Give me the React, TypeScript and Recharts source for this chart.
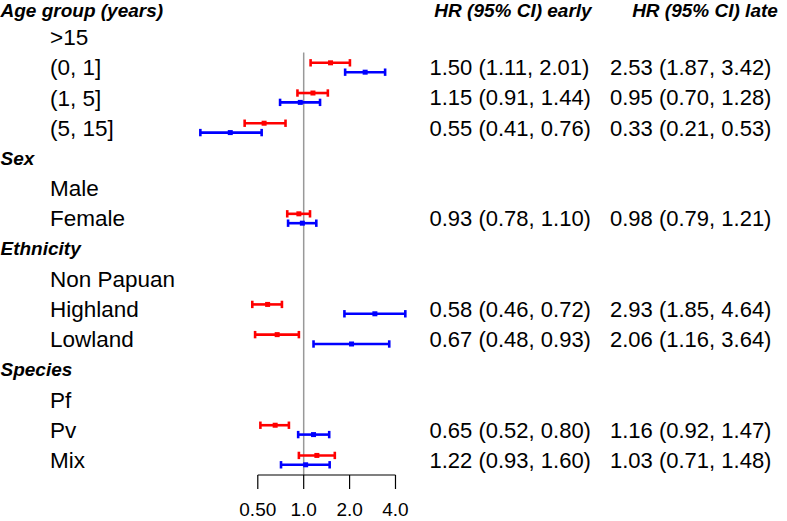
import React from 'react';
import { ScatterChart, Scatter, XAxis, YAxis, ErrorBar, ReferenceLine } from 'recharts';

const FONT = '"Liberation Sans", Arial, Helvetica, sans-serif';

// Row labels (top to bottom)
const rowLabels = [
  'Age group (years)', '>15', '(0, 1]', '(1, 5]', '(5, 15]',
  'Sex', 'Male', 'Female',
  'Ethnicity', 'Non Papuan', 'Highland', 'Lowland',
  'Species', 'Pf', 'Pv', 'Mix',
];
const headerRows = ['Age group (years)', 'Sex', 'Ethnicity', 'Species'];

// Rows with estimates
const estRows = ['(0, 1]', '(1, 5]', '(5, 15]', 'Female', 'Highland', 'Lowland', 'Pv', 'Mix'];

const earlyHR = [1.50, 1.15, 0.55, 0.93, 0.58, 0.67, 0.65, 1.22];
const earlyLo = [1.11, 0.91, 0.41, 0.78, 0.46, 0.48, 0.52, 0.93];
const earlyHi = [2.01, 1.44, 0.76, 1.10, 0.72, 0.93, 0.80, 1.60];

const lateHR = [2.53, 0.95, 0.33, 0.98, 2.93, 2.06, 1.16, 1.03];
const lateLo = [1.87, 0.70, 0.21, 0.79, 1.85, 1.16, 0.92, 0.71];
const lateHi = [3.42, 1.28, 0.53, 1.21, 4.64, 3.64, 1.47, 1.48];

const columnHeaders = ['HR (95% CI) early', 'HR (95% CI) late'];

const tickValues = [0.5, 1, 2, 4];
const tickLabels = ['0.50', '1.0', '2.0', '4.0'];

const Y_TOP = -0.235;
const Y_BOTTOM = 15.493;
const X_MIN = -2.477;
const X_MAX = 2.534;
const OFFSET = 0.155;

const fmt = (h: number, l: number, u: number) =>
  `${h.toFixed(2)} (${l.toFixed(2)}, ${u.toFixed(2)})`;

const buildPoints = (hr: number[], lo: number[], hi: number[], shift: number) =>
  estRows.map((r, k) => {
    const c = Math.log2(hr[k]);
    return {
      x: c,
      y: rowLabels.indexOf(r) + shift,
      err: [c - Math.log2(lo[k]), Math.log2(hi[k]) - c],
    };
  });

const earlyPts = buildPoints(earlyHR, earlyLo, earlyHi, -OFFSET);
const latePts = buildPoints(lateHR, lateLo, lateHi, OFFSET);

function RowTick(props: any) {
  const { payload } = props;
  const idx = Math.round(payload.value);
  const label = rowLabels[idx];
  if (label === undefined) return null;
  // keep the top header row fully inside the picture
  const y = idx === 0 ? props.y + 3.5 : props.y;
  const isHead = headerRows.includes(label);
  const k = estRows.indexOf(label);
  const headStyle = {
    fontFamily: FONT,
    fontSize: 19,
    fontWeight: 'bold' as const,
    fontStyle: 'italic' as const,
  };
  const labelStyle = { fontFamily: FONT, fontSize: 22.5 };
  const numStyle = { fontFamily: FONT, fontSize: 22 };
  return (
    <g>
      <text
        x={isHead ? 0.5 : 50}
        y={y}
        dy="0.35em"
        textAnchor="start"
        fill="#000"
        style={isHead ? headStyle : labelStyle}
      >
        {label}
      </text>
      {idx === 0 && (
        <>
          <text x={513} y={y} dy="0.35em" textAnchor="middle" fill="#000" style={headStyle}>
            {columnHeaders[0]}
          </text>
          <text x={705} y={y} dy="0.35em" textAnchor="middle" fill="#000" style={headStyle}>
            {columnHeaders[1]}
          </text>
        </>
      )}
      {k >= 0 && (
        <>
          <text x={429.5} y={y} dy="0.35em" textAnchor="start" fill="#000" style={numStyle}>
            {fmt(earlyHR[k], earlyLo[k], earlyHi[k])}
          </text>
          <text x={610} y={y} dy="0.35em" textAnchor="start" fill="#000" style={numStyle}>
            {fmt(lateHR[k], lateLo[k], lateHi[k])}
          </text>
        </>
      )}
    </g>
  );
}

const Marker = (color: string) => (props: any) => (
  <rect x={props.cx - 2.5} y={props.cy - 2.5} width={5} height={5} fill={color} />
);

export default function App() {
  return (
    <div style={{ position: 'absolute', left: 0, top: 0, background: '#fff' }}>
      <ScatterChart
        width={787}
        height={521}
        margin={{ top: 0, right: 367, bottom: 0, left: 0 }}
        style={{ fontFamily: FONT }}
      >
        <XAxis
          type="number"
          dataKey="x"
          domain={[X_MIN, X_MAX]}
          allowDataOverflow
          ticks={tickValues.map((v) => Math.log2(v))}
          interval={0}
          tickFormatter={(v: number) => tickLabels[tickValues.findIndex((t) => Math.abs(Math.log2(t) - v) < 1e-6)] ?? ''}
          axisLine={false}
          tickLine={{ stroke: '#000', strokeWidth: 1.2 }}
          tickSize={14}
          tickMargin={14}
          height={46}
          tick={{ fontSize: 19, fill: '#000', fontFamily: FONT }}
        />
        <YAxis
          type="number"
          dataKey="y"
          domain={[Y_TOP, Y_BOTTOM]}
          allowDataOverflow
          reversed
          ticks={rowLabels.map((_, i) => i)}
          interval={0}
          width={190}
          axisLine={false}
          tickLine={false}
          tick={<RowTick />}
        />
        <ReferenceLine
          segment={[{ x: 0, y: 1.5 }, { x: 0, y: Y_BOTTOM }]}
          stroke="#999999"
          strokeWidth={1.5}
          ifOverflow="visible"
        />
        <ReferenceLine
          segment={[{ x: Math.log2(tickValues[0]), y: Y_BOTTOM }, { x: Math.log2(tickValues[tickValues.length - 1]), y: Y_BOTTOM }]}
          stroke="#000"
          strokeWidth={1.2}
          ifOverflow="visible"
        />
        <Scatter data={earlyPts} fill="#ff0000" shape={Marker('#ff0000')} isAnimationActive={false}>
          <ErrorBar dataKey="err" direction="x" width={3.7} stroke="#ff0000" strokeWidth={2.6} isAnimationActive={false} />
        </Scatter>
        <Scatter data={latePts} fill="#0000ff" shape={Marker('#0000ff')} isAnimationActive={false}>
          <ErrorBar dataKey="err" direction="x" width={3.7} stroke="#0000ff" strokeWidth={2.6} isAnimationActive={false} />
        </Scatter>
      </ScatterChart>
    </div>
  );
}
